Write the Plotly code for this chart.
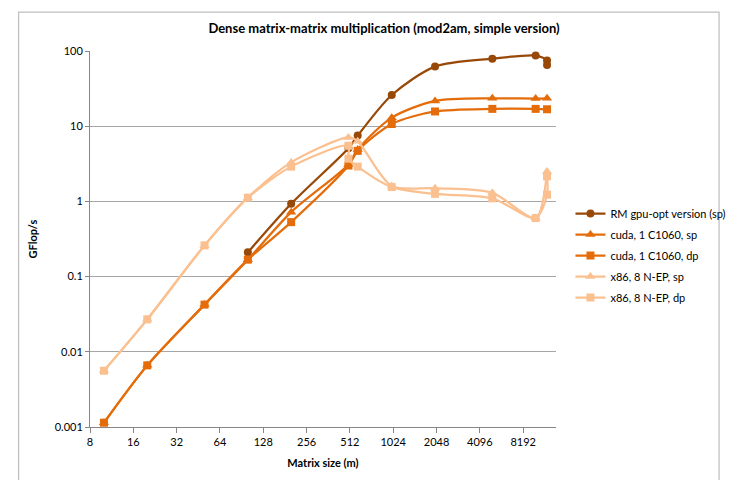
import plotly.graph_objects as go
import math

# ---- data ----
rm_x = [100, 200, 500, 580, 1000, 2000, 5000, 10000, 12000, 12000]
rm_y = [0.21, 0.93, 5.1, 7.5, 26, 62, 79, 87, 75, 65]

cuda_x = [10, 20, 50, 100, 200, 500, 580, 1000, 2000, 5000, 10000, 12000]
cuda_sp_y = [0.00114, 0.0066, 0.0424, 0.168, 0.72, 3.1, 4.9, 13, 21.7, 23.5, 23.3, 23.5]
cuda_dp_y = [0.00114, 0.0066, 0.0424, 0.168, 0.53, 3.0, 4.7, 10.7, 15.7, 17, 17, 16.8]

x86_sp_x = [10, 20, 50, 100, 200, 500, 580, 1000, 2000, 5000, 10000, 12000]
x86_sp_y = [0.0056, 0.027, 0.26, 1.12, 3.3, 7.1, 6.3, 1.6, 1.5, 1.3, 0.6, 2.5]
x86_dp_x = [10, 20, 50, 100, 200, 500, 500, 580, 1000, 2000, 5000, 10000, 12000, 12000]
x86_dp_y = [0.0056, 0.027, 0.26, 1.12, 2.9, 5.5, 3.7, 2.9, 1.55, 1.26, 1.1, 0.6, 1.23, 2.15]

x_ticks = [8, 16, 32, 64, 128, 256, 512, 1024, 2048, 4096, 8192]
y_ticks = [0.001, 0.01, 0.1, 1, 10, 100]
y_tick_text = ["0.001", "0.01", "0.1", "1", "10", "100"]

names = ["RM gpu-opt version (sp)", "cuda, 1 C1060, sp", "cuda, 1 C1060, dp",
         "x86, 8 N-EP, sp", "x86, 8 N-EP, dp"]

C_DARK = "#984807"
C_MID = "#E46C0A"
C_LIGHT = "#FAC090"

FONT = "Lato"
W, H = 735, 480
L, R, T, B = 82, 565, 43, 419

def px(xp):
    return (xp - L) / (R - L)

def py(yp):
    return (B - yp) / (B - T)

fig = go.Figure()
series = [
    (rm_x, rm_y, names[0], C_DARK, "circle", 8),
    (cuda_x, cuda_sp_y, names[1], C_MID, "triangle-up", 9),
    (cuda_x, cuda_dp_y, names[2], C_MID, "square", 8),
    (x86_sp_x, x86_sp_y, names[3], C_LIGHT, "triangle-up", 9),
    (x86_dp_x, x86_dp_y, names[4], C_LIGHT, "square", 8),
]
for i, (xs, ys, nm, col, sym, sz) in enumerate(series):
    fig.add_trace(go.Scatter(
        x=xs, y=ys, name=nm, mode="lines+markers", legendgroup=f"g{i}",
        line=dict(color=col, width=2.25, shape="spline", smoothing=0.8),
        marker=dict(color=col, symbol=sym, size=sz, line=dict(width=0)),
    ))

fig.update_layout(
    width=W, height=H,
    margin=dict(l=L, r=W - R, t=T, b=H - B),
    paper_bgcolor="white", plot_bgcolor="white",
    font=dict(family=FONT, size=11, color="#000000"),
    title=dict(text="<b>Dense matrix-matrix multiplication (mod2am, simple version)</b>",
               font=dict(family=FONT, size=13, color="#000000"),
               xref="container", yref="container",
               x=376 / W, xanchor="center", y=1 - 20 / H, yanchor="middle"),
    showlegend=True,
    legend=dict(x=px(580), y=py(191), xanchor="left", yanchor="top",
                font=dict(family=FONT, size=11, color="#000000"),
                bgcolor="rgba(0,0,0,0)", tracegroupgap=2, itemwidth=30),
    shapes=[dict(type="rect", xref="paper", yref="paper",
                 x0=px(8), x1=px(734), y0=py(476), y1=py(4),
                 line=dict(color="#BFBFBF", width=1.25), fillcolor="rgba(0,0,0,0)",
                 layer="below")],
)

fig.update_xaxes(
    type="log", range=[math.log10(8), math.log10(13850)],
    tickvals=x_ticks, ticktext=[str(v) for v in x_ticks],
    showgrid=False, showline=True, linecolor="#868686", linewidth=1,
    ticks="outside", ticklen=5, tickcolor="#868686",
    tickfont=dict(family=FONT, size=11, color="#000000"),
    title=dict(text="<b>Matrix size (m)</b>", font=dict(family=FONT, size=11, color="#000000"),
               standoff=12),
    zeroline=False,
)
fig.update_yaxes(
    type="log", range=[-3, 2],
    tickvals=y_ticks, ticktext=y_tick_text,
    showgrid=True, gridcolor="#A6A6A6", gridwidth=1,
    showline=True, linecolor="#868686", linewidth=1,
    ticks="outside", ticklen=4, tickcolor="#868686",
    tickfont=dict(family=FONT, size=11, color="#000000"),
    title=dict(text="<b>GFlop/s</b>", font=dict(family=FONT, size=11, color="#000000"),
               standoff=14),
    zeroline=False,
)

fig.write_html("out.html")
